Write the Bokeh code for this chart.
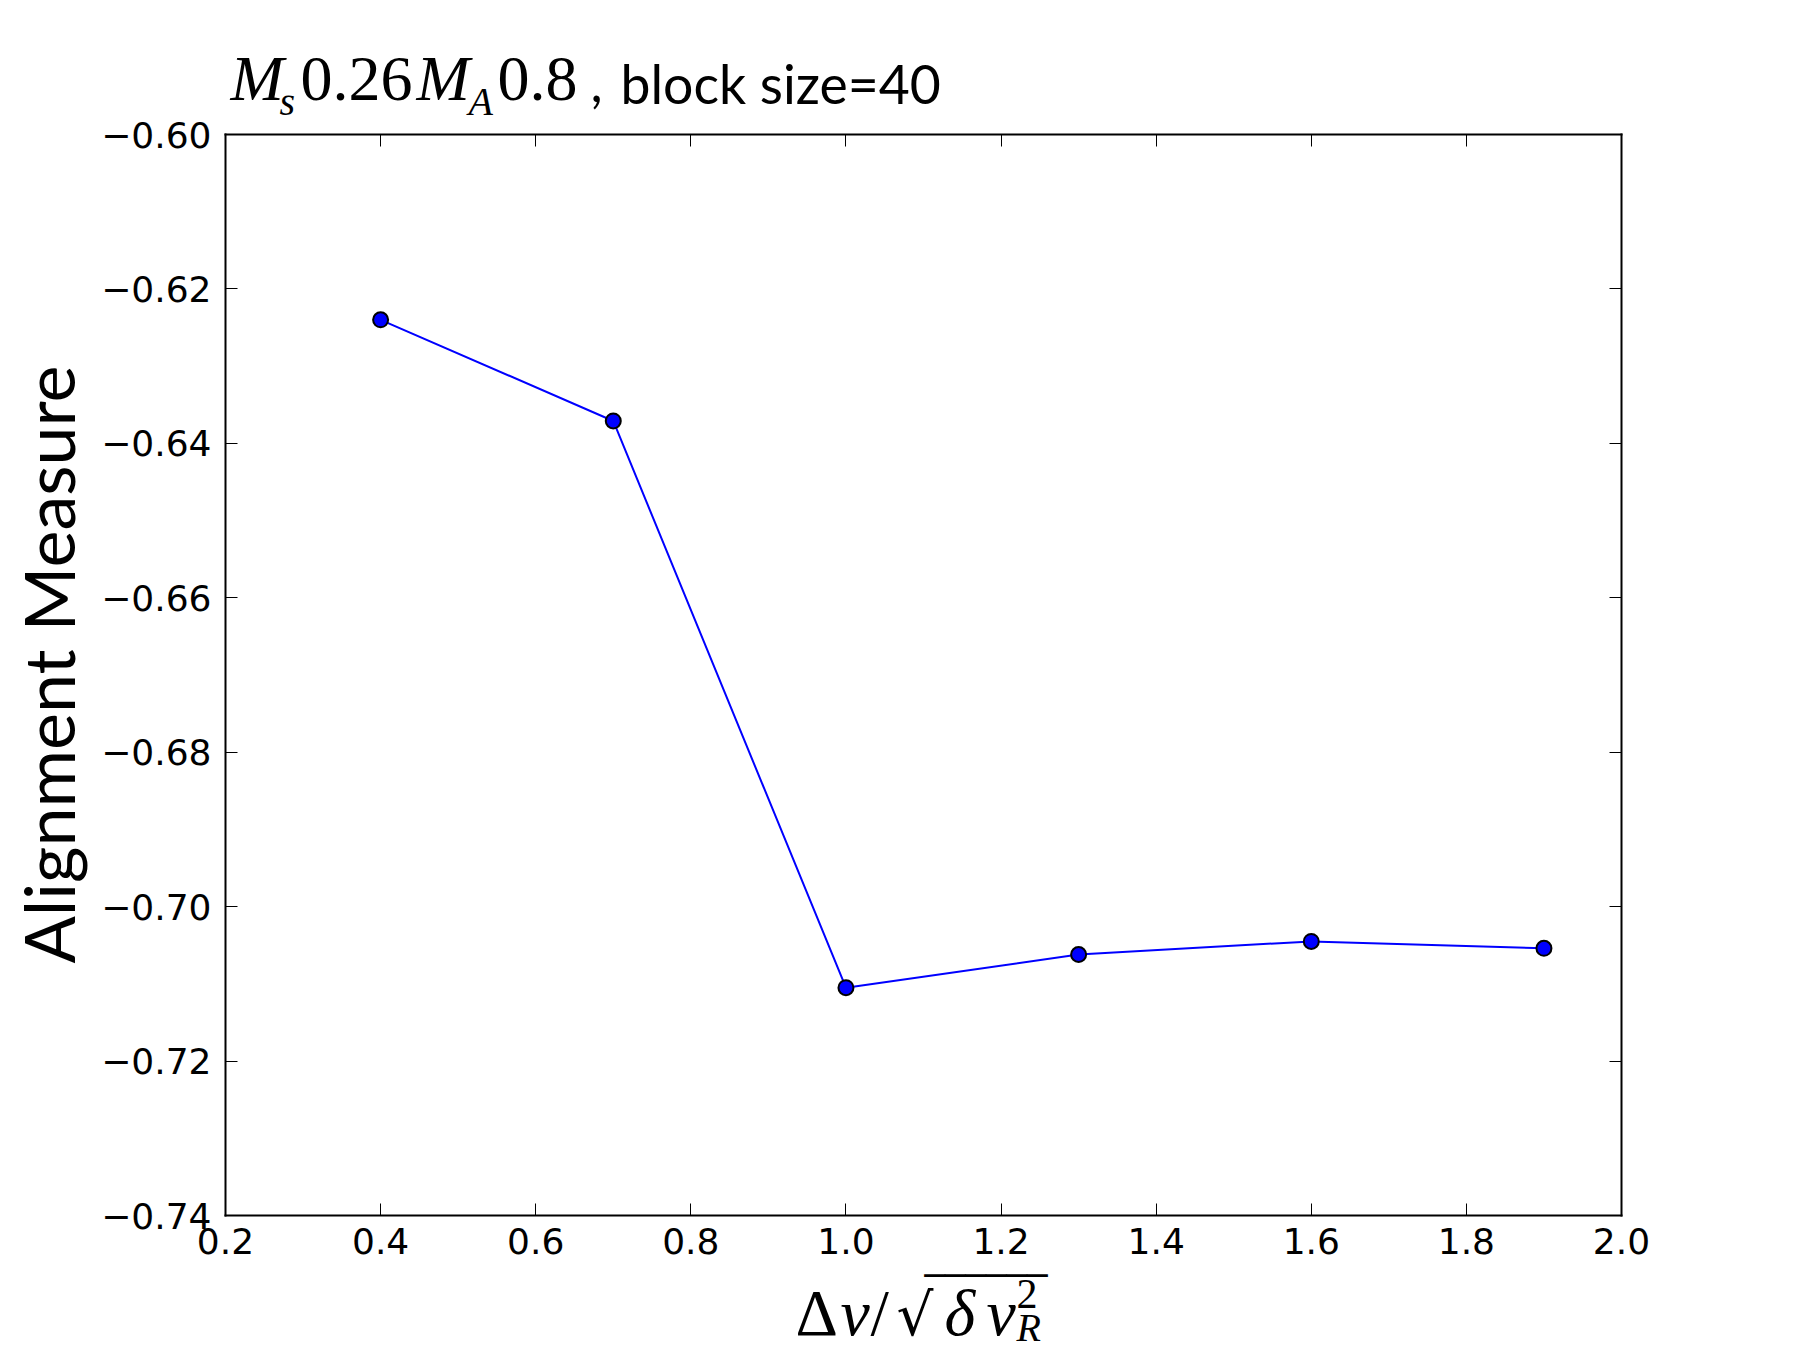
import numpy as np
from bokeh.plotting import figure
from bokeh.models import Label, LinearAxis, FixedTicker, CustomJSTickFormatter, Range1d
from bokeh.embed import file_html
from bokeh.resources import INLINE

# ---- data ----
dv_ratio = [0.4, 0.7, 1.0, 1.3, 1.6, 1.9]
alignment = [-0.6240, -0.6371, -0.7105, -0.7062, -0.7045, -0.7054]
x_ticks = [0.2, 0.4, 0.6, 0.8, 1.0, 1.2, 1.4, 1.6, 1.8, 2.0]
y_ticks = [-0.74, -0.72, -0.70, -0.68, -0.66, -0.64, -0.62, -0.60]

# ---- layout (axes box in canvas pixels) ----
W, H = 1801, 1351
L, R, T, B = 225, 180, 134, 136
X0, X1 = 0.2, 2.0
Y0, Y1 = -0.74, -0.60
FW, FH = W - L - R, H - T - B
sx = (X1 - X0) / FW
sy = (Y1 - Y0) / FH

# the frame spans the whole canvas; the axes are pinned to the data box
p = figure(width=W, height=H,
           x_range=Range1d(X0 - L * sx, X1 + R * sx),
           y_range=Range1d(Y0 - B * sy, Y1 + T * sy),
           output_backend="svg", toolbar_location=None, min_border=0)
p.title.visible = False
p.xgrid.grid_line_color = None
p.ygrid.grid_line_color = None
p.outline_line_color = None
p.background_fill_color = "white"
p.border_fill_color = "white"

fmt_x = CustomJSTickFormatter(code="return tick.toFixed(1);")
fmt_y = CustomJSTickFormatter(code="return (tick < -1e-9 ? '\u2212' : '') + Math.abs(tick).toFixed(2);")
fmt_none = CustomJSTickFormatter(code="return '';")


def style(ax, ticks, fmt, standoff, loc, bounds):
    ax.ticker = FixedTicker(ticks=ticks)
    ax.formatter = fmt
    ax.fixed_location = loc
    ax.bounds = bounds
    ax.axis_line_width = 2
    ax.axis_line_color = "black"
    ax.axis_line_cap = "square"
    ax.major_tick_in = 12
    ax.major_tick_out = 0
    ax.major_tick_line_width = 1
    ax.major_tick_line_color = "black"
    ax.minor_tick_line_color = None
    ax.major_label_text_font = "DejaVu Sans"
    ax.major_label_text_font_size = "36px"
    ax.major_label_text_color = "black"
    ax.major_label_standoff = standoff


style(p.xaxis[0], x_ticks, fmt_x, 12, Y0, (X0, X1))
style(p.yaxis[0], y_ticks, fmt_y, 14, X0, (Y0, Y1))

top_ax = LinearAxis()
style(top_ax, x_ticks, fmt_none, 0, Y1, (X0, X1))
top_ax.major_label_text_font_size = "1px"
p.add_layout(top_ax, "above")
right_ax = LinearAxis()
style(right_ax, y_ticks, fmt_none, 0, X1, (Y0, Y1))
right_ax.major_label_text_font_size = "1px"
p.add_layout(right_ax, "right")

p.line(dv_ratio, alignment, line_color="#0000ff", line_width=2)
p.scatter(dv_ratio, alignment, size=15, fill_color="#0000ff", line_color="black", line_width=2)

K = 0.355  # measured shift of the rendered baseline, in em


def lab(px, py, text, font, size, style="normal", align="left", angle=0.0):
    # px, py: wanted baseline anchor in canvas pixels from the top-left corner
    ox = -K * size * np.sin(angle)
    oy = K * size * np.cos(angle)
    p.add_layout(Label(x=px + ox, y=H - py + oy, x_units="screen", y_units="screen",
                       text=text, text_font=font,
                       text_font_size=f"{size}px", text_font_style=style,
                       text_align=align, text_baseline="alphabetic",
                       text_color="black", angle=angle))


# ---- title ----
serif = "Liberation Serif"
lab(230, 101, "M", serif, 64, "italic")
lab(279, 115, "s", serif, 40, "italic")
lab(300, 101, "0.26", serif, 64)
lab(416, 101, "M", serif, 64, "italic")
lab(468, 115, "A", serif, 40, "italic")
lab(497, 101, "0.8", serif, 64)
lab(590, 101, ",", "Lato", 53.5)
lab(620, 101, "block size=40", "Lato", 53.5)

# ---- x axis label ----
lab(795, 1335, "\u0394", serif, 66)
lab(840, 1335, "v", serif, 66, "italic")
lab(870, 1335, "/", serif, 66)
lab(896, 1335, "\u221a", "DejaVu Sans", 58)
lab(924, 1267, "______", "DejaVu Sans", 41)
lab(944, 1335, "\u03b4", serif, 66, "italic")
lab(986, 1335, "v", serif, 66, "italic")
lab(1016, 1308, "2", serif, 42)
lab(1016, 1341, "R", serif, 40, "italic")

# ---- y axis label ----
lab(72, 664, "Alignment Measure", "Lato", 70, align="center", angle=np.pi / 2)

open("out.html", "w").write(file_html(p, INLINE))
